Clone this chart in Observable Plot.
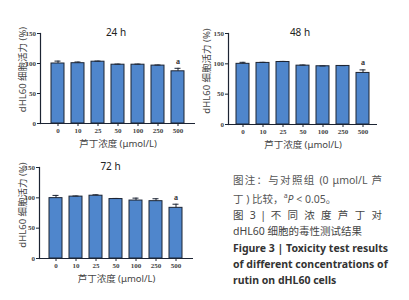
<!DOCTYPE html>
<html>
<head>
<meta charset="utf-8">
<script src="https://cdn.jsdelivr.net/npm/d3@7"></script>
<script src="https://cdn.jsdelivr.net/npm/@observablehq/plot@0.6"></script>
<style>
  body { margin: 0; background: #fff; }
  #root { position: relative; width: 409px; height: 300px; overflow: hidden; background: #fff; }
  .panel { position: absolute; }
  .panel svg { overflow: visible; }
  #note { position: absolute; left: 233px; top: 172px; width: 149px;
          font-family: "Noto Sans", "Noto Sans CJK SC", sans-serif; font-size: 10.5px; line-height: 16.3px; color: #555; }
  #note .j { text-align: justify; text-align-last: justify; white-space: nowrap; }
  #note .l { text-align: left; white-space: nowrap; }
  #note .b { font-weight: bold; color: #333; }
  #note .d { color: #444; }
</style>
</head>
<body>
<div id="root">
  <div id="p1" class="panel" style="left:0px;top:0px"></div>
  <div id="p2" class="panel" style="left:200px;top:0px"></div>
  <div id="p3" class="panel" style="left:0px;top:134px"></div>
  <div id="note"></div>
</div>
<script>
const concs = ["0", "10", "25", "50", "100", "250", "500"];
const viab24 = [100, 100.5, 103, 98, 98, 96.5, 87];
const err24 = [4, 2, 1, 1, 1, 1, 5];
const viab48 = [100, 101.5, 103, 97, 96, 96.5, 85];
const err48 = [2.5, 1, 1, 1, 0.5, 0.5, 5];
const viab72 = [99.5, 102, 103.5, 98, 95.5, 94.5, 83.5];
const err72 = [4.5, 1, 1.5, 1, 4, 4, 6];
const sigMarks = ["", "", "", "", "", "", "a"];
const yTicks = [0, 50, 100, 150];
const titles = ["24 h", "48 h", "72 h"];
const yLabel = "dHL60 细胞活力 (%)";
const xLabel = "芦丁浓度 (μmol/L)";

const noteLines = [
  {cls: "j", html: "图注：与对照组 (0 μmol/L 芦"},
  {cls: "l", html: "丁 ) 比较，<sup style='font-size:7px'>a</sup><i>P</i> &lt; 0.05。"},
  {cls: "j d", html: "图 3 | 不 同 浓 度 芦 丁 对"},
  {cls: "l d", html: "dHL60 细胞的毒性测试结果"},
  {cls: "j b", html: "Figure 3 | Toxicity test results"},
  {cls: "j b", html: "of different concentrations of"},
  {cls: "l b", html: "rutin on dHL60 cells"}
];

const barFill = "#4f86cc";
const dark = "#1c2433";
const sans = "'Noto Sans', 'Noto Sans CJK SC', sans-serif";
const serif = "'Liberation Serif', serif";

function panel(el, title, values, errs, g) {
  const data = concs.map((c, i) => ({c, v: values[i], e: errs[i], s: sigMarks[i]}));
  const chart = Plot.plot({
    width: g.w, height: 150,
    marginLeft: g.ml, marginRight: g.mr, marginTop: 33, marginBottom: g.mb,
    style: {background: "transparent", overflow: "visible"},
    x: {type: "band", domain: concs, paddingInner: 0.33, paddingOuter: g.po, axis: null},
    y: {domain: [0, 150], axis: null},
    marks: [
      Plot.barY(data, {x: "c", y: "v", fill: barFill, stroke: dark, strokeWidth: 1}),
      Plot.ruleX(data, {x: "c", y1: "v", y2: d => d.v + d.e, stroke: dark, strokeWidth: 1}),
      Plot.tickY(data, {x: "c", y: d => d.v + d.e, stroke: dark, strokeWidth: 1, insetLeft: 3.5, insetRight: 3.5}),
      Plot.text(data, {x: "c", y: d => d.v + d.e, text: "s", dy: -7, fontSize: 8, fontFamily: serif, fontWeight: "bold", fill: "#333"}),
      Plot.ruleY([0], {stroke: dark, strokeWidth: 1.2}),
      Plot.frame({anchor: "left", stroke: dark, strokeWidth: 1.2}),
      Plot.axisY({ticks: yTicks, tickSize: 3, tickPadding: 1.5, fontSize: 7, fontFamily: serif, fontWeight: "bold", fill: "#444", stroke: dark, label: null}),
      Plot.axisX({tickSize: 3, tickPadding: 2, fontSize: 7, fontFamily: serif, fontWeight: "bold", fill: "#444", stroke: dark, label: null}),
      Plot.text([title], {frameAnchor: "top", lineAnchor: "middle", dy: -1, dx: g.tdx, fontSize: 10, fontFamily: sans, fill: "#222"}),
      Plot.text([yLabel], {frameAnchor: "left", textAnchor: "middle", lineAnchor: "middle", rotate: -90, dx: g.ydx, dy: g.ydy, fontSize: 9.5, fontFamily: sans, fill: "#444"}),
      Plot.text([xLabel], {frameAnchor: "bottom", lineAnchor: "middle", dy: 20, fontSize: 9.5, fontFamily: sans, fill: "#444"})
    ]
  });
  document.getElementById(el).appendChild(chart);
}

panel("p1", titles[0], viab24, err24, {w: 200, ml: 40, mr: 5, mb: 27, po: 0.38, ydx: -18, ydy: -9, tdx: -2});
panel("p2", titles[1], viab48, err48, {w: 209, ml: 28, mr: 32, mb: 26, po: 0.26, ydx: -22, ydy: -8, tdx: -3});
panel("p3", titles[2], viab72, err72, {w: 200, ml: 39, mr: 7, mb: 26, po: 0.4, ydx: -17, ydy: -8, tdx: -6});

const note = document.getElementById("note");
for (const ln of noteLines) {
  const d = document.createElement("div");
  d.className = ln.cls;
  d.innerHTML = ln.html;
  note.appendChild(d);
}
</script>
</body>
</html>
